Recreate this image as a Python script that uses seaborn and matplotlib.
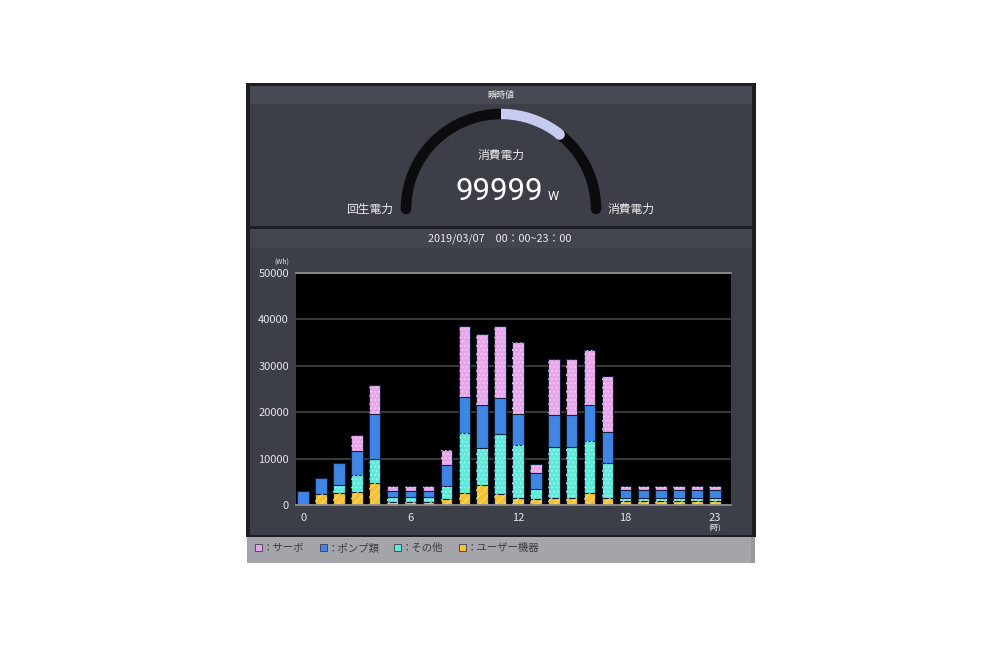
import numpy as np
import pandas as pd
import matplotlib
matplotlib.use("Agg")
import matplotlib.pyplot as plt
import seaborn as sns
from matplotlib.patches import Rectangle

# ---------------- data ----------------
hours = list(range(24))
user_equipment = [0, 2300, 2600, 2700, 4700, 700, 700, 700, 1400, 2500, 4300, 2400,
                  1600, 1200, 1600, 1600, 2600, 1600, 800, 800, 800, 800, 800, 800]
other = [0, 0, 1800, 3700, 5300, 1000, 1000, 1000, 2600, 13000, 7900, 13000,
         11300, 2300, 11000, 11000, 11100, 7500, 800, 800, 800, 800, 800, 800]
pumps = [3000, 3600, 4700, 5200, 9700, 1400, 1400, 1400, 4700, 7800, 9300, 7700,
         6800, 3300, 6900, 6900, 7800, 6600, 1600, 1600, 1600, 1600, 1600, 1600]
servo = [0, 0, 0, 3500, 6200, 900, 900, 900, 3200, 15200, 15300, 15400,
         15500, 2000, 12000, 12000, 11800, 12100, 1000, 1000, 1000, 1000, 1000, 1000]
series_labels = ["サーボ", "ポンプ類", "その他", "ユーザー機器"]
xtick_hours = [0, 6, 12, 18, 23]
ytick_values = [0, 10000, 20000, 30000, 40000, 50000]
gauge_title = "瞬時値"
gauge_label = "消費電力"
gauge_value = "99999"
gauge_unit = "W"
gauge_left = "回生電力"
gauge_right = "消費電力"
gauge_fraction = 0.21   # share of the half circle that is lit
date_text = "2019/03/07　00：00~23：00"

# ---------------- style ----------------
sns.set_theme(style="dark")
plt.rcParams['font.family'] = ['Noto Sans CJK JP', 'DejaVu Sans']
plt.rcParams['hatch.linewidth'] = 0.7

W, H = 1002, 645
fig = plt.figure(figsize=(W / 100, H / 100), dpi=100, facecolor='white')
bg = fig.add_axes([0, 0, 1, 1])
bg.set_xlim(0, W)
bg.set_ylim(H, 0)
bg.axis('off')


def rect(x0, y0, x1, y1, c):
    bg.add_patch(Rectangle((x0, y0), x1 - x0, y1 - y0, facecolor=c, edgecolor='none'))


# frame and panels
rect(246, 83, 756, 537, '#1d1e23')
rect(250, 86, 752, 226, '#3c3f48')
rect(250, 86, 752, 104, '#474a54')
rect(250, 229, 752, 535, '#3c3f48')
rect(250, 229, 752, 248, '#42454e')
rect(247, 537, 755, 563, '#a4a4ab')
rect(751, 537, 755, 563, '#97979e')

# gauge
cx, cy, r = 501, 209, 95
th = np.linspace(np.pi, 0, 300)
bg.plot(cx + r * np.cos(th), cy - r * np.sin(th), color='#0c0c10', lw=7.6,
        solid_capstyle='round')
th2 = np.linspace(np.pi / 2, np.pi / 2 - gauge_fraction * np.pi, 100)
bg.plot(cx + r * np.cos(th2), cy - r * np.sin(th2), color='#c8cbf0', lw=7.6,
        solid_capstyle='butt')
bg.plot([cx + r * np.cos(th2[-1])], [cy - r * np.sin(th2[-1])], 'o',
        color='#c8cbf0', ms=7.6, mew=0)

tc = '#ececec'
bg.text(501, 95, gauge_title, color=tc, fontsize=6.5, ha='center', va='center')
bg.text(501, 155, gauge_label, color=tc, fontsize=8.5, ha='center', va='center')
bg.text(499, 200, gauge_value, color='white', fontsize=22.5, ha='center', va='baseline',
        family=['Roboto', 'DejaVu Sans'])
bg.text(553, 200, gauge_unit, color='white', fontsize=9, ha='center', va='baseline',
        family=['Roboto', 'DejaVu Sans'])
bg.text(370, 209, gauge_left, color=tc, fontsize=8.5, ha='center', va='center')
bg.text(631, 209, gauge_right, color=tc, fontsize=8.5, ha='center', va='center')
bg.text(500, 239, date_text, color=tc, fontsize=7.8, ha='center', va='center')

# ---------------- stacked bar chart ----------------
ax = fig.add_axes([296 / W, 1 - 505 / H, 435 / W, 232 / H])
ax.set_facecolor('black')

df = pd.DataFrame({"hour": hours, "user": user_equipment, "other": other,
                   "pump": pumps, "servo": servo})
df["c1"] = df["user"]
df["c2"] = df["c1"] + df["other"]
df["c3"] = df["c2"] + df["pump"]
df["c4"] = df["c3"] + df["servo"]

col_servo, col_pump, col_other, col_user = '#e8a6ea', '#3f86e4', '#5fe9d9', '#f4c232'
hatch_cols = {'c4': '#f6cdf6', 'c2': '#a6f6ee', 'c1': '#ffe07a'}
hatches = {'c4': '....', 'c2': '....', 'c1': '////'}
edge = '#15203a'

layers = [('c4', col_servo), ('c3', col_pump), ('c2', col_other), ('c1', col_user)]
for key, col in layers:
    sns.barplot(data=df, x="hour", y=key, order=hours, color=col, saturation=1,
                width=0.64, errorbar=None, edgecolor=edge, linewidth=0.8, ax=ax)
    if key in hatches:
        n0 = len(ax.patches)
        sns.barplot(data=df, x="hour", y=key, order=hours, color=col, saturation=1,
                    width=0.64, errorbar=None, ax=ax)
        for p in ax.patches[n0:]:
            p.set_facecolor('none')
            p.set_edgecolor(hatch_cols[key])
            p.set_linewidth(0)
            p.set_hatch(hatches[key])

ax.set_xlim(-0.4, 23.9)
ax.set_ylim(0, 50000)
ax.set_xlabel("")
ax.set_ylabel("")
ax.set_xticks(xtick_hours)
ax.set_xticklabels([str(h) for h in xtick_hours])
ax.set_yticks(ytick_values)
ax.set_yticklabels([str(v) for v in ytick_values])
ax.tick_params(axis='both', length=0, colors='#e6e6e6', labelsize=8)
ax.tick_params(axis='y', pad=5)
ax.tick_params(axis='x', pad=6)
ax.grid(False)
for v in ytick_values[1:-1]:
    ax.axhline(v, color='#3a3a3a', lw=1.4, zorder=0.5)
for s in ['left', 'right']:
    ax.spines[s].set_visible(False)
for s in ['top', 'bottom']:
    ax.spines[s].set_visible(True)
    ax.spines[s].set_color('#8e8e8e')
    ax.spines[s].set_linewidth(1.3)

bg.text(282, 262, "(Wh)", color=tc, fontsize=5, ha='center', va='center')
bg.text(715, 528, "(時)", color=tc, fontsize=5.5, ha='center', va='center')

# legend strip
leg_x = [255, 320, 394, 459]
leg_cols = [col_servo, col_pump, col_other, col_user]
for x0, c, lab in zip(leg_x, leg_cols, series_labels):
    bg.add_patch(Rectangle((x0, 543.5), 7, 7, facecolor=c, edgecolor='#3b3b55', lw=0.6))
    bg.text(x0 + 7.5, 548, "：" + lab, color='#3a3a3f', fontsize=7.5, ha='left', va='center')

fig.savefig("out.png", dpi=100, facecolor='white')
